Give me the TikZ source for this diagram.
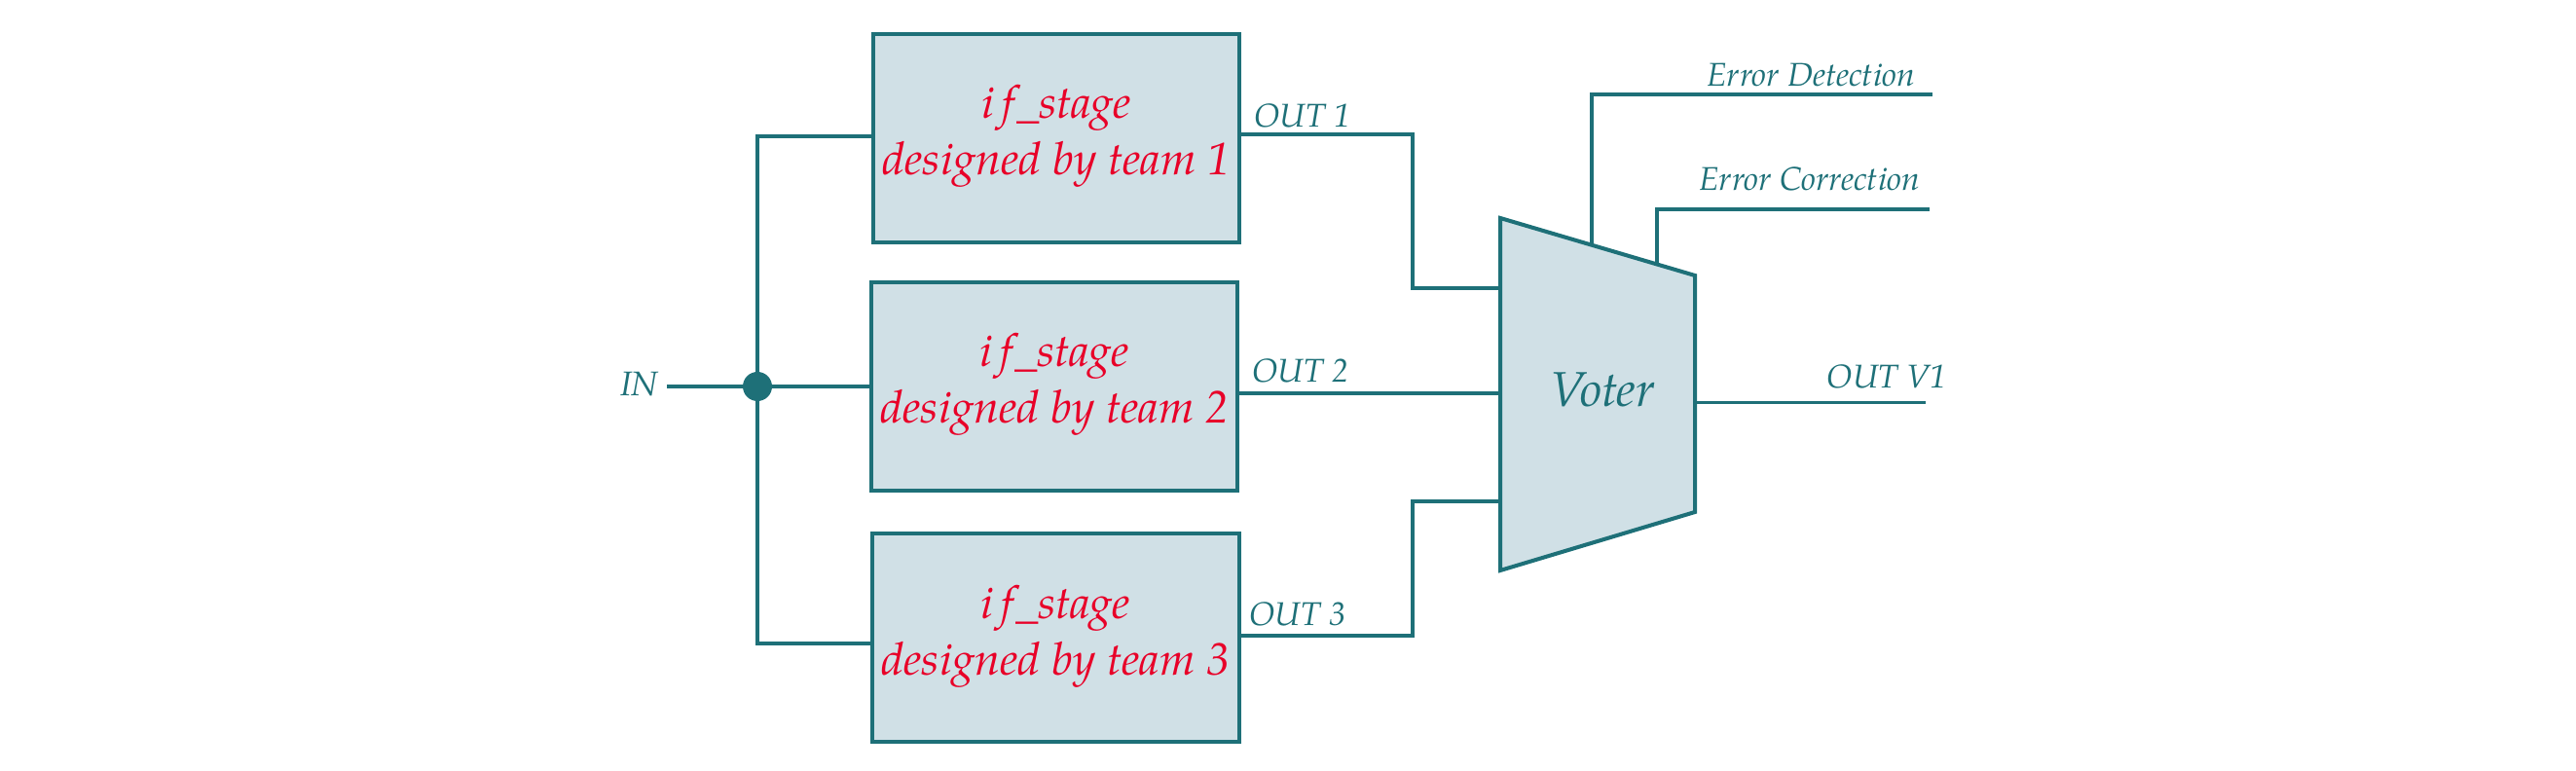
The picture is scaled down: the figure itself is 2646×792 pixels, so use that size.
\documentclass[tikz,border=0pt]{standalone}
\usepackage{fontspec}
\setmainfont{texgyrepagella-regular.otf}[ItalicFont=texgyrepagella-italic.otf]
\definecolor{teal1}{RGB}{30,112,120}
\definecolor{boxfill}{RGB}{208,224,230}
\definecolor{red1}{RGB}{232,0,40}
\newcommand{\ifst}{i\kern2.2pt f\kern0.6pt\_stage}
\begin{document}
\begin{tikzpicture}[x=0.01cm,y=-0.01cm,
  wire/.style={draw=teal1,line width=1.1pt},
  stageframe/.style={draw=teal1,line width=1.15pt,fill=boxfill},
  stagetext/.style={text=red1,font=\fontsize{13.3}{16.5}\selectfont\itshape,align=center,inner sep=0pt},
  lbl/.style={text=teal1,font=\fontsize{9.6}{10}\selectfont\itshape,inner sep=0pt}]
\useasboundingbox (0,0) rectangle (2646,792);
% stage boxes
\draw[stageframe] (897,35) rectangle (1273,249);
\draw[stageframe] (895,290) rectangle (1271,504);
\draw[stageframe] (896,548) rectangle (1273,762);
\node[stagetext,anchor=base] (t1a) at (1085,122) {\ifst};
\node[stagetext,anchor=base] (t1b) at (1085,180) {designed by team 1};
\node[stagetext,anchor=base] (t2a) at (1083,377) {\ifst};
\node[stagetext,anchor=base] (t2b) at (1083,435) {designed by team 2};
\node[stagetext,anchor=base] (t3a) at (1084,636) {\ifst};
\node[stagetext,anchor=base] (t3b) at (1084,694) {designed by team 3};
% box ports
\coordinate (in1) at (897,140);
\coordinate (in2) at (895,397);
\coordinate (in3) at (896,661);
\coordinate (o1) at (1273,138);
\coordinate (o2) at (1271,404);
\coordinate (o3) at (1273,653);
% input
\coordinate (inL) at (685,397);
\coordinate (dotc) at (778,397);
\draw[wire] (inL) -- (dotc) -- (in2);
\draw[wire] (in1) -| (dotc) |- (in3);
\node[circle,fill=teal1,inner sep=0pt,minimum size=0.3cm] (dot) at (dotc) {};
\node[lbl,anchor=base east,font=\fontsize{10}{10}\selectfont\itshape] (inlbl) at (677,407) {IN};
% voter
\coordinate (vTL) at (1541,224);
\coordinate (vBL) at (1541,586);
\coordinate (vTR) at (1741,283);
\coordinate (vBR) at (1741,526);
\draw[stageframe,line join=miter] (vTL) -- (vTR) -- (vBR) -- (vBL) -- cycle;
\node[text=teal1,font=\fontsize{14.3}{15}\selectfont\itshape,anchor=base,inner sep=0pt] (voter) at (1646,418) {Voter};
\coordinate (v1) at (1541,296);
\coordinate (v2) at (1541,404);
\coordinate (v3) at (1541,515);
\draw[wire] (o1) -- (1451,138) -- (1451,296) -- (v1);
\draw[wire] (o2) -- (v2);
\draw[wire] (o3) -- (1451,653) -- (1451,515) -- (v3);
% outputs
\coordinate (ed0) at (1635,252);
\coordinate (edE) at (1985,97);
\coordinate (ec0) at (1702,271.5);
\coordinate (ecE) at (1982,215);
\coordinate (ov0) at (1741,413.5);
\coordinate (ovE) at (1978,413.5);
\draw[wire] (ed0) |- (edE);
\draw[wire] (ec0) |- (ecE);
\draw[wire] (ov0) -- (ovE);
% labels
\node[lbl,anchor=base west] (l1) at (1288,131) {OUT 1};
\node[lbl,anchor=base west] (l2) at (1286,393) {OUT 2};
\node[lbl,anchor=base west] (l3) at (1283,643) {OUT 3};
\node[lbl,anchor=base east] (led) at (1968,89) {Error Detection};
\node[lbl,anchor=base east] (lec) at (1973,196) {Error Correction};
\node[lbl,anchor=base west] (lov) at (1876,399) {OUT V1};
\end{tikzpicture}
\end{document}
